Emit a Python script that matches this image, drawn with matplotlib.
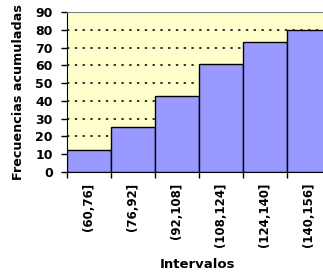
import matplotlib
matplotlib.use("Agg")
import matplotlib.pyplot as plt
import numpy as np

plt.rcParams['font.family'] = ['DejaVu Sans']

# data
intervalos = ["(60,76]", "(76,92]", "(92,108]", "(108,124]", "(124,140]", "(140,156]"]
frec_acum = [12, 25, 43, 61, 73, 80]
y_ticks = [0, 10, 20, 30, 40, 50, 60, 70, 80, 90]

fig = plt.figure(figsize=(3.23, 2.76), dpi=100)
# plot area runs past the right edge of the picture, like the original
ax = fig.add_axes([0.2065, 0.378, 0.817, 0.5775])
ax.set_facecolor("#FFFFCC")

x = np.arange(len(intervalos))
ax.bar(x, frec_acum, width=1.0, color="#9999FF", edgecolor="black", linewidth=1.0, zorder=3)

ax.set_xlim(-0.5, len(intervalos) - 0.5)
ax.set_ylim(0, 90)

# dotted grid lines
for v in y_ticks[1:-1]:
    ax.axhline(v, color="#333333", linestyle=(0, (1.2, 2.8)), linewidth=1.4, zorder=1)

ax.set_yticks(y_ticks)
ax.set_yticklabels([str(v) for v in y_ticks], fontsize=9, fontweight="bold")

# tick marks on bar edges, labels at bar centres
ax.set_xticks(np.arange(len(intervalos) + 1) - 0.5)
ax.set_xticklabels([])
ax.set_xticks(x, minor=True)
ax.set_xticklabels(intervalos, minor=True, rotation=90, fontsize=8.5, fontweight="bold")
ax.tick_params(axis="x", which="minor", length=0, pad=8)
ax.tick_params(axis="x", which="major", length=4, width=1, direction="out", color="black")
ax.tick_params(axis="y", length=4, width=1, direction="out", pad=6, color="black")

ax.spines["left"].set_color("black")
ax.spines["bottom"].set_color("black")
ax.spines["top"].set_color("#808080")
ax.spines["right"].set_visible(False)

ax.set_ylabel("Frecuencias acumuladas", fontsize=9.2, fontweight="bold")
ax.set_xlabel("Intervalos", fontsize=9.5, fontweight="bold")
ax.xaxis.set_label_coords((198 - 66.7) / 264, -0.54)
ax.yaxis.set_label_coords(-0.158, 0.5)

fig.savefig("out.png", dpi=100)
